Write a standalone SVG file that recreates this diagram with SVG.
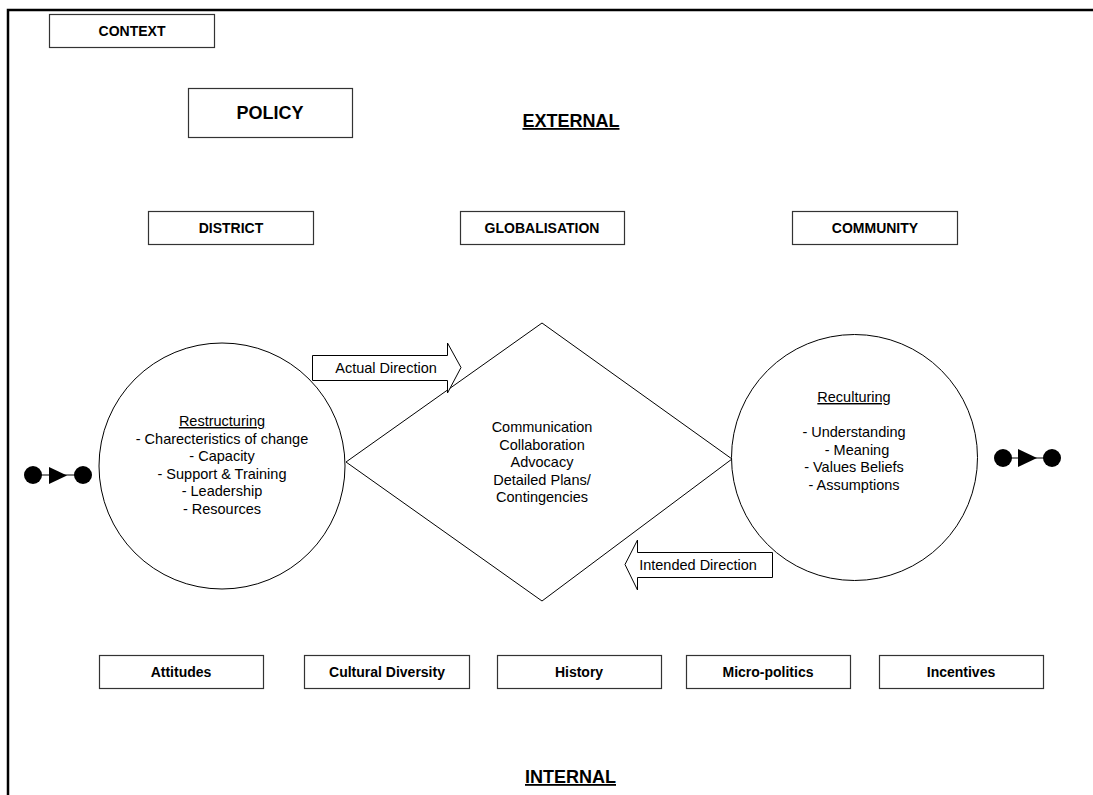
<svg xmlns="http://www.w3.org/2000/svg" width="1093" height="795" viewBox="0 0 1093 795">
<style>
.box{fill:#fff;stroke:#333;stroke-width:1.2}
.shape{fill:#fff;stroke:#000;stroke-width:1}
.bl{font-family:"Liberation Sans",Arial,sans-serif;font-weight:bold;font-size:14px;text-anchor:middle;fill:#000}
.hd{font-family:"Liberation Sans",Arial,sans-serif;font-weight:bold;font-size:18px;text-anchor:middle;fill:#000;text-decoration:underline}
.tx{font-family:"Liberation Sans",Arial,sans-serif;font-size:14.5px;text-anchor:middle;fill:#000}
.u{text-decoration:underline}
</style>
<rect x="0" y="0" width="1093" height="795" fill="#fff"/>
<path d="M8,795 V10 H1093" fill="none" stroke="#000" stroke-width="2.5"/>

<g id="context"><rect class="box" x="49.5" y="14.5" width="165" height="33"/><text class="bl" x="132" y="36">CONTEXT</text></g>
<g id="policy"><rect class="box" x="188.5" y="88.5" width="164" height="49"/><text class="bl" x="270" y="119" style="font-size:18px">POLICY</text></g>
<g id="external"><text class="hd" x="571" y="127">EXTERNAL</text></g>
<g id="district"><rect class="box" x="148.5" y="211.5" width="165" height="33"/><text class="bl" x="231" y="233">DISTRICT</text></g>
<g id="globalisation"><rect class="box" x="460.5" y="211.5" width="164" height="33"/><text class="bl" x="542" y="233">GLOBALISATION</text></g>
<g id="community"><rect class="box" x="792.5" y="211.5" width="165" height="33"/><text class="bl" x="875" y="233">COMMUNITY</text></g>

<g id="connectors">
<g id="left-flow">
<line x1="33" y1="475" x2="83" y2="475" stroke="#000" stroke-width="1.2"/>
<circle cx="33" cy="475" r="9" fill="#000"/>
<polygon points="49,467 67,475.5 49,484" fill="#000"/>
<circle cx="83" cy="475" r="9" fill="#000"/>
</g>
<g id="right-flow">
<line x1="1003" y1="458" x2="1052" y2="458" stroke="#000" stroke-width="1.2"/>
<circle cx="1003" cy="458" r="9" fill="#000"/>
<polygon points="1018,449 1037,458 1018,467" fill="#000"/>
<circle cx="1052" cy="458" r="9" fill="#000"/>
</g>
</g>

<g id="diamond"><polygon class="shape" points="542,323 732,459 542,601 346,462"/>
<text class="tx" x="542" y="432">Communication</text>
<text class="tx" x="542" y="449.5">Collaboration</text>
<text class="tx" x="542" y="467">Advocacy</text>
<text class="tx" x="542" y="484.5">Detailed Plans/</text>
<text class="tx" x="542" y="502">Contingencies</text>
</g>

<g id="restructuring"><circle class="shape" cx="222" cy="466" r="123"/>
<text class="tx u" x="222" y="426">Restructuring</text>
<text class="tx" x="222" y="443.5">- Charecteristics of change</text>
<text class="tx" x="222" y="461">- Capacity</text>
<text class="tx" x="222" y="478.5">- Support &amp; Training</text>
<text class="tx" x="222" y="496">- Leadership</text>
<text class="tx" x="222" y="513.5">- Resources</text>
</g>

<g id="reculturing"><circle class="shape" cx="854.5" cy="457.5" r="123"/>
<text class="tx u" x="854" y="402">Reculturing</text>
<text class="tx" x="854" y="437">- Understanding</text>
<text class="tx" x="857" y="454.5">- Meaning</text>
<text class="tx" x="854" y="472">- Values Beliefs</text>
<text class="tx" x="854" y="489.5">- Assumptions</text>
</g>

<g id="actual-direction"><polygon class="shape" points="312.5,355.5 447.5,355.5 447.5,343 461,367.5 447.5,393 447.5,380.5 312.5,380.5"/>
<text class="tx" x="386" y="372.5">Actual Direction</text></g>
<g id="intended-direction"><polygon class="shape" points="772.5,552.5 637.5,552.5 637.5,540 625,564.5 637.5,590 637.5,577.5 772.5,577.5"/>
<text class="tx" x="698" y="569.5">Intended Direction</text></g>

<g id="attitudes"><rect class="box" x="99.5" y="655.5" width="164" height="33"/><text class="bl" x="181" y="677">Attitudes</text></g>
<g id="cultural-diversity"><rect class="box" x="304.5" y="655.5" width="165" height="33"/><text class="bl" x="387" y="677">Cultural Diversity</text></g>
<g id="history"><rect class="box" x="497.5" y="655.5" width="164" height="33"/><text class="bl" x="579" y="677">History</text></g>
<g id="micro-politics"><rect class="box" x="686.5" y="655.5" width="164" height="33"/><text class="bl" x="768" y="677">Micro-politics</text></g>
<g id="incentives"><rect class="box" x="879.5" y="655.5" width="164" height="33"/><text class="bl" x="961" y="677">Incentives</text></g>
<g id="internal"><text class="hd" x="570.5" y="783">INTERNAL</text></g>
</svg>
